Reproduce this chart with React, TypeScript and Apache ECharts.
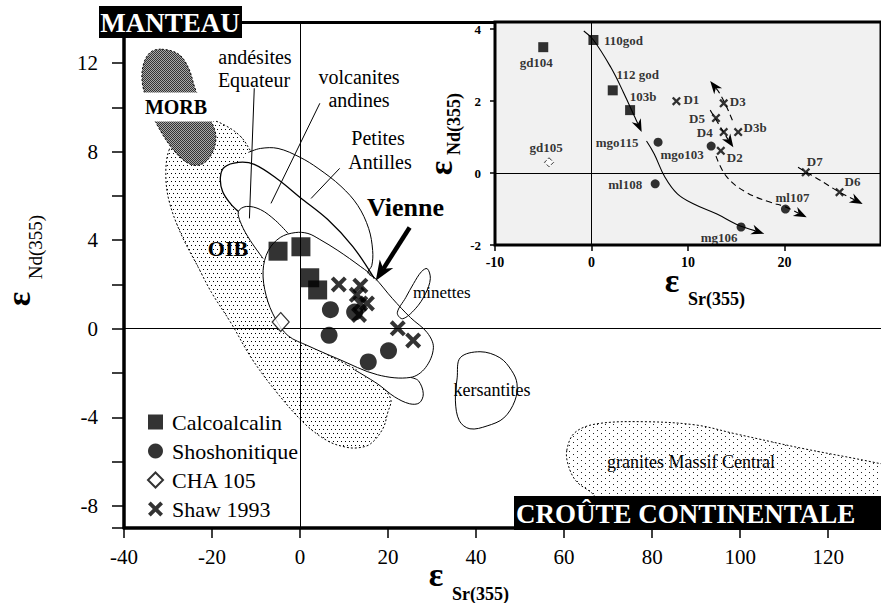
import React, { useEffect, useRef } from 'react';
import * as echarts from 'echarts';

type Pt = [number, number];
type Sample = [number, number, string];

// Samples: [εSr(355), εNd(355), sample name]
const calcoalcalin: Sample[] = [
  [-5.0, 3.5, 'gd104'],
  [0.2, 3.7, '110god'],
  [2.2, 2.3, '112 god'],
  [4.0, 1.75, '103b'],
];
const shoshonitique: Sample[] = [
  [6.9, 0.86, 'mgo115'],
  [12.4, 0.75, 'mgo103'],
  [6.6, -0.3, 'ml108'],
  [15.5, -1.5, 'mg106'],
  [20.1, -1.0, 'ml107'],
];
const cha105: Sample[] = [[-4.4, 0.3, 'gd105']];
const shaw1993: Sample[] = [
  [8.8, 2.0, 'D1'],
  [13.7, 1.94, 'D3'],
  [12.9, 1.53, 'D5'],
  [13.7, 1.14, 'D4'],
  [15.2, 1.14, 'D3b'],
  [13.4, 0.62, 'D2'],
  [22.2, 0.02, 'D7'],
  [25.7, -0.53, 'D6'],
];

// Reference fields (εSr, εNd)
const oibField: Pt[] = [
  [-29.8, 8.05], [-28.0, 8.5], [-24.2, 9.28], [-20.1, 9.41], [-16.3, 9.1], [-13.3, 8.64],
  [-11.3, 8.05], [-9.0, 7.38], [-11.8, 6.7], [-12.9, 5.8], [-11.3, 4.66], [-7.7, 3.53],
  [-6.1, 2.17], [-4.3, 0.81], [-1.1, -0.18], [4.7, -1.0], [12.4, -1.81], [17.6, -2.44],
  [20.6, -3.17], [19.9, -3.8], [18.8, -4.52], [16.0, -5.2], [13.1, -5.38], [10.2, -5.34],
  [6.3, -5.07], [1.1, -4.3], [-5.6, -2.8], [-11.1, -1.31], [-15.6, 0.23], [-20.1, 1.63],
  [-23.1, 2.76], [-27.1, 4.3], [-29.8, 5.8], [-30.5, 7.01],
];
const morbField: Pt[] = [
  [-31.4, 12.62], [-27.6, 12.4], [-25.3, 11.76], [-23.7, 10.77], [-21.2, 9.77], [-19.2, 8.82],
  [-19.7, 8.05], [-21.9, 7.47], [-24.9, 7.42], [-28.7, 8.05], [-32.8, 9.32], [-34.8, 10.3],
  [-35.9, 11.2], [-35.5, 12.0], [-33.9, 12.5],
];
const antillesOutline: Pt[] = [
  [-11.75, 7.96], [-9.0, 8.14], [-5.0, 8.14], [0, 7.74], [4.1, 7.24], [9.3, 6.43],
  [13.1, 5.57], [15.6, 4.52], [16.5, 3.53], [16.3, 2.85], [15.4, 2.53], [16.9, 2.31],
];
const andinesOutline: Pt[] = [
  [-14.0, 5.29], [-15.8, 5.65], [-17.6, 6.2], [-18.1, 6.83], [-17.2, 7.29], [-14.0, 7.51],
  [-10.4, 7.42], [-5.0, 6.74], [0, 5.93], [6.3, 4.93], [12.0, 3.71], [16.9, 2.26],
];
const equateurOutline: Pt[] = [
  [-8.4, 3.17], [-11.3, 3.98], [-13.3, 4.7], [-14.0, 5.29], [-12.2, 5.52], [-9.0, 5.38],
  [-5.6, 4.89], [-2.7, 4.3],
];
const andeanMask: Pt[] = [
  [-11.75, 7.96], [-9.0, 8.14], [-5.0, 8.14], [0, 7.74], [4.1, 7.24], [9.3, 6.43],
  [13.1, 5.57], [15.6, 4.52], [16.5, 3.53], [16.3, 2.85], [16.9, 2.31], [13.8, 2.8],
  [8.6, 3.53], [4.5, 4.03], [1.8, 4.3], [-1.1, 4.34], [-4.5, 4.12], [-7.2, 3.53],
  [-8.4, 3.17], [-11.3, 3.98], [-13.3, 4.7], [-14.0, 5.29], [-15.8, 5.65], [-17.6, 6.2],
  [-18.1, 6.83], [-17.2, 7.29], [-14.0, 7.51], [-12.5, 7.8],
];
const vienneField: Pt[] = [
  [-1.1, 4.34], [1.8, 4.3], [4.5, 4.03], [8.6, 3.53], [13.8, 2.8], [16.9, 2.31],
  [21.0, 1.36], [25.1, 0.5], [28.9, -0.18], [30.3, -0.86], [28.5, -1.76], [25.1, -2.2],
  [17.6, -2.08], [8.6, -1.36], [1.8, -0.77], [-2.7, -0.32], [-5.6, 0.45], [-7.7, 1.49],
  [-8.4, 2.62], [-7.2, 3.53], [-4.5, 4.12],
];
const vienneTail: Pt[] = [
  [12.4, -1.86], [17.6, -2.49], [21.5, -3.08], [24.9, -3.39], [27.1, -3.35], [28.0, -2.94],
  [26.9, -2.35], [25.1, -2.2],
];
const minettesField: Pt[] = [
  [28.9, 2.71], [29.6, 2.26], [28.5, 1.58], [26.2, 0.9], [23.3, 0.45], [22.1, 0.72],
  [24.0, 1.4], [25.8, 2.04], [27.6, 2.58],
];
const kersantitesField: Pt[] = [
  [40.9, -1.04], [36.4, -1.31], [35.7, -2.22], [35.3, -3.26], [36.2, -4.16], [38.6, -4.52],
  [42.5, -4.39], [46.3, -4.03], [48.8, -3.26], [49.3, -2.49], [48.1, -1.9], [45.4, -1.31],
];
const granitesField: Pt[] = [
  [60.6, -5.5], [62.4, -4.7], [67.3, -4.3], [78, -4.2], [90, -4.35], [99, -4.75],
  [114, -5.4], [131, -6.06], [140, -6.5], [140, -8.5], [70, -8.5], [66.7, -7.5],
  [62.8, -6.9], [61, -6.2],
];
const leaderLines: Pt[][] = [
  [[-10.4, 10.86], [-11.5, 4.98]],
  [[4.5, 10.18], [-6.6, 5.66]],
  [[9.0, 7.24], [2.5, 5.88]],
];
const vienneArrow: Pt[] = [[24.9, 4.57], [17.2, 2.17]];

// Inset evolution trends
const insetSolidTrends: Pt[][] = [
  [[-0.8, 3.95], [0.2, 3.7], [2.0, 2.94], [3.3, 2.25], [4.5, 1.55], [5.2, 1.14]],
  [[5.7, 0.89], [6.5, 0.53], [7.6, -0.11], [8.9, -0.58], [10.6, -0.86], [13, -1.14], [15, -1.42], [17.9, -1.69]],
];
const insetDashedTrends: Pt[][] = [
  [[12.3, 1.75], [13.2, 1.35], [14.0, 1.0], [14.7, 0.72]],
  [[12.9, 0.47], [14.0, -0.1], [16.0, -0.53], [18.4, -0.8], [20.1, -0.94], [22.3, -1.23]],
  [[14.6, 1.47], [13.9, 1.9], [13.2, 2.25], [12.3, 2.56]],
  [[21.4, 0.16], [23.5, -0.17], [25.7, -0.53], [28.1, -0.86]],
];

// Axis ticks
const xTicks = [-40, -20, 0, 20, 40, 60, 80, 100, 120];
const yLabels = [-8, -4, 0, 4, 8, 12];
const yTicks = [-9, -8, -6, -4, -2, 0, 2, 4, 6, 8, 10, 12];
const insetXTicks = [-10, 0, 10, 20];
const insetYTicks = [-2, 0, 2, 4];

const FAMILY = 'Liberation Serif';
const SERIF = '"Liberation Serif", "Times New Roman", serif';
const CROSS = 'path://M0,1.8L1.8,0L5,3.2L8.2,0L10,1.8L6.8,5L10,8.2L8.2,10L5,6.8L1.8,10L0,8.2L3.2,5Z';

const insetLabelOffset: Record<string, [number, number]> = {
  gd104: [-7, 15], '110god': [30, 1], '112 god': [25, -16], '103b': [13, -14],
  mgo115: [-41, 0], mgo103: [-29, 8], ml108: [-30, 1], mg106: [-22, 10], ml107: [7, -12],
  gd105: [-3, -15],
  D1: [15, -2], D3: [14, -2], D5: [-19, 0], D4: [-19, 0], D3b: [17, -5], D2: [14, 7], D7: [9, -11], D6: [13, -11],
};

function pattern(w: number, h: number, cells: [number, number, string][], bg?: string) {
  const c = document.createElement('canvas');
  c.width = w;
  c.height = h;
  const g = c.getContext('2d')!;
  if (bg) {
    g.fillStyle = bg;
    g.fillRect(0, 0, w, h);
  }
  cells.forEach(([x, y, col]) => {
    g.fillStyle = col;
    g.fillRect(x, y, 1, 1);
  });
  return { image: c, repeat: 'repeat', imageWidth: w, imageHeight: h };
}

function arrowHead(a: number[], b: number[], len: number, half: number) {
  const dx = b[0] - a[0];
  const dy = b[1] - a[1];
  const L = Math.hypot(dx, dy) || 1;
  const ux = dx / L;
  const uy = dy / L;
  const bx = b[0] - ux * len;
  const by = b[1] - uy * len;
  const neck = [b[0] - ux * len * 0.7, b[1] - uy * len * 0.7];
  return {
    neck,
    head: [[b[0], b[1]], [bx - uy * half, by + ux * half], neck, [bx + uy * half, by - ux * half]],
  };
}

function txt(text: string, x: number, y: number, font: string, align = 'center', extra: any = {}) {
  return {
    type: 'text', z: 50, x, y, ...extra,
    style: { text, font, fill: '#000', align, verticalAlign: 'middle', textAlign: align, textVerticalAlign: 'middle', ...(extra.style || {}) },
  };
}

// Axis label text routed through a rich style so the serif face is applied
function serifLabel(size: number, bold = false) {
  return {
    formatter: (v: number) => `{t|${v}}`,
    rich: { t: { fontFamily: SERIF, fontSize: size, fontWeight: bold ? 'bold' : 'normal', color: '#000' } },
  };
}

export default function App() {
  const ref = useRef<HTMLDivElement>(null);

  useEffect(() => {
    if (!ref.current) return;
    const chart = echarts.init(ref.current, undefined, { renderer: 'svg' });

    const oibFill = pattern(8, 8, [[1, 1, '#000'], [5, 1, '#000'], [3, 5, '#000'], [7, 5, '#000']], '#fff');
    const graniteFill = pattern(8, 6, [[1, 1, '#222'], [5, 4, '#222']], '#fff');
    const morbFill = pattern(2, 2, [[0, 0, '#333'], [1, 1, '#333'], [1, 0, '#a8a8a8'], [0, 1, '#a8a8a8']]);

    const fieldsLayer = {
      type: 'custom',
      coordinateSystem: 'cartesian2d',
      xAxisIndex: 0,
      yAxisIndex: 0,
      z: 1,
      silent: true,
      data: [[0, 0]],
      renderItem: (_p: any, api: any) => {
        const P = (pts: Pt[]) => pts.map((q) => api.coord(q));
        let z2 = 0;
        const poly = (pts: Pt[], style: any, smooth = 0.35) => ({
          type: 'polygon', z2: z2++, shape: { points: P(pts), smooth }, style,
        });
        const line = (pts: Pt[], style: any, smooth = 0.35) => ({
          type: 'polyline', z2: z2++, shape: { points: P(pts), smooth }, style: { fill: null, ...style },
        });
        const thin = { stroke: '#000', lineWidth: 1 };
        const dashed = { stroke: '#000', lineWidth: 1, lineDash: [2, 2] };
        const a = api.coord(vienneArrow[0]);
        const b = api.coord(vienneArrow[1]);
        const ah = arrowHead(a, b, 20, 8);
        return {
          type: 'group',
          children: [
            poly(granitesField, { fill: graniteFill, ...dashed }),
            poly(oibField, { fill: oibFill, ...dashed }),
            poly(andeanMask, { fill: '#fff' }),
            poly(vienneField, { fill: '#fff' }),
            poly(vienneTail, { fill: '#fff' }),
            poly(kersantitesField, { fill: '#fff' }),
            poly(minettesField, { fill: '#fff' }),
            poly(morbField, { fill: morbFill, ...dashed }),
            line(antillesOutline, thin),
            line(andinesOutline, { stroke: '#000', lineWidth: 1.3 }),
            line(equateurOutline, thin),
            poly(vienneField, { fill: null, ...thin }),
            line(vienneTail, thin),
            poly(minettesField, { fill: null, ...thin }),
            poly(kersantitesField, { fill: null, ...thin }),
            ...leaderLines.map((l) => line(l, thin, 0)),
            { type: 'line', z2: z2++, shape: { x1: a[0], y1: a[1], x2: ah.neck[0], y2: ah.neck[1] }, style: { stroke: '#000', lineWidth: 4.5 } },
            { type: 'polygon', z2: z2++, shape: { points: ah.head }, style: { fill: '#000' } },
          ],
        };
      },
    };

    const trendsLayer = {
      type: 'custom',
      coordinateSystem: 'cartesian2d',
      xAxisIndex: 2,
      yAxisIndex: 1,
      z: 4,
      silent: true,
      data: [[0, 0]],
      renderItem: (_p: any, api: any) => {
        const children: any[] = [];
        const draw = (pts: Pt[], dash: boolean) => {
          const px = pts.map((q) => api.coord(q));
          const ah = arrowHead(px[px.length - 2], px[px.length - 1], 13, 5);
          const body = px.slice(0, -1).concat([ah.neck]);
          children.push({
            type: 'polyline', shape: { points: body, smooth: 0.4 },
            style: { fill: null, stroke: '#000', lineWidth: 1.1, lineDash: dash ? [6, 4] : null },
          });
          children.push({ type: 'polygon', shape: { points: ah.head }, style: { fill: '#000' } });
        };
        insetSolidTrends.forEach((t) => draw(t, false));
        insetDashedTrends.forEach((t) => draw(t, true));
        return { type: 'group', children };
      },
    };

    const labelStyle = { color: '#000', fontFamily: SERIF, fontWeight: 'bold', fontSize: 13 };
    const insetData = (arr: Sample[]) =>
      arr.map((d) => ({
        value: [d[0], d[1]],
        name: d[2],
        label: { show: true, position: 'inside', offset: insetLabelOffset[d[2]], formatter: d[2], ...labelStyle },
      }));
    const mainData = (arr: Sample[]) => arr.map((d) => [d[0], d[1]]);

    const refLines = (xi: number, yi: number) => ({
      type: 'scatter',
      xAxisIndex: xi,
      yAxisIndex: yi,
      data: [],
      z: 3,
      silent: true,
      markLine: {
        silent: true,
        symbol: 'none',
        label: { show: false },
        lineStyle: { color: '#000', width: 1, type: 'solid' },
        data: [{ xAxis: 0 }, { yAxis: 0 }],
      },
    });

    chart.setOption({
      animation: false,
      backgroundColor: '#fff',
      textStyle: { fontFamily: FAMILY },
      grid: [
        { left: 124, top: 22, width: 761, height: 506 },
        { left: 495, top: 22, width: 392, height: 223, show: true, backgroundColor: '#f1f1f1', borderColor: '#000', borderWidth: 3, z: 2 },
      ],
      xAxis: [
        {
          type: 'value', gridIndex: 0, min: -40, max: 132,
          splitLine: { show: false },
          axisLine: { onZero: false, lineStyle: { color: '#000', width: 3.5 } },
          axisTick: { customValues: xTicks, length: 10, lineStyle: { color: '#000', width: 1.5 } },
          axisLabel: { customValues: xTicks, margin: 18, ...serifLabel(21) },
        },
        {
          type: 'value', gridIndex: 0, min: -40, max: 132, position: 'top',
          splitLine: { show: false },
          axisLine: { onZero: false, lineStyle: { color: '#000', width: 3 } },
          axisTick: { show: false },
          axisLabel: { show: false },
        },
        {
          type: 'value', gridIndex: 1, min: -10, max: 30,
          splitLine: { show: false },
          axisLine: { show: false, onZero: false },
          axisTick: { customValues: insetXTicks, length: 6, lineStyle: { color: '#000', width: 1.5 } },
          axisLabel: { customValues: insetXTicks, margin: 10, ...serifLabel(14, true) },
        },
      ],
      yAxis: [
        {
          type: 'value', gridIndex: 0, min: -9, max: 13.85,
          splitLine: { show: false },
          axisLine: { onZero: false, lineStyle: { color: '#000', width: 3.5 } },
          axisTick: { customValues: yTicks, length: 12, lineStyle: { color: '#000', width: 1.5 } },
          axisLabel: { customValues: yLabels, margin: 26, ...serifLabel(21) },
        },
        {
          type: 'value', gridIndex: 1, min: -2, max: 4.2,
          splitLine: { show: false },
          axisLine: { show: false, onZero: false },
          axisTick: { customValues: insetYTicks, length: 5, lineStyle: { color: '#000', width: 1.5 } },
          axisLabel: { customValues: insetYTicks, margin: 14, ...serifLabel(13, true) },
        },
      ],
      legend: {
        left: 142,
        top: 406,
        orient: 'vertical',
        itemWidth: 15,
        itemHeight: 15,
        itemGap: 7,
        selectedMode: false,
        formatter: (name: string) => `{t|${name}}`,
        textStyle: {
          fontFamily: SERIF, fontSize: 22, color: '#000', padding: [0, 0, 0, 4],
          rich: { t: { fontFamily: SERIF, fontSize: 22, color: '#000' } },
        },
        data: [
          { name: 'Calcoalcalin', icon: 'rect' },
          { name: 'Shoshonitique', icon: 'circle' },
          { name: 'CHA 105', icon: 'diamond' },
          { name: 'Shaw 1993', icon: CROSS },
        ],
      },
      series: [
        fieldsLayer,
        refLines(0, 0),
        {
          type: 'scatter', name: 'Calcoalcalin', xAxisIndex: 0, yAxisIndex: 0, z: 5,
          symbol: 'rect', symbolSize: 19, itemStyle: { color: '#000' }, data: mainData(calcoalcalin),
        },
        {
          type: 'scatter', name: 'Shoshonitique', xAxisIndex: 0, yAxisIndex: 0, z: 5,
          symbol: 'circle', symbolSize: 17, itemStyle: { color: '#000' }, data: mainData(shoshonitique),
        },
        {
          type: 'scatter', name: 'CHA 105', xAxisIndex: 0, yAxisIndex: 0, z: 5,
          symbol: 'diamond', symbolSize: [17, 19], itemStyle: { color: '#fff', borderColor: '#000', borderWidth: 1.2 },
          data: mainData(cha105),
        },
        {
          type: 'scatter', name: 'Shaw 1993', xAxisIndex: 0, yAxisIndex: 0, z: 5,
          symbol: CROSS, symbolSize: 16, itemStyle: { color: '#000' }, data: mainData(shaw1993),
        },
        refLines(2, 1),
        trendsLayer,
        {
          type: 'scatter', name: 'inset-calc', xAxisIndex: 2, yAxisIndex: 1, z: 5,
          symbol: 'rect', symbolSize: 10, itemStyle: { color: '#000' }, data: insetData(calcoalcalin),
        },
        {
          type: 'scatter', name: 'inset-sho', xAxisIndex: 2, yAxisIndex: 1, z: 5,
          symbol: 'circle', symbolSize: 9, itemStyle: { color: '#000' }, data: insetData(shoshonitique),
        },
        {
          type: 'scatter', name: 'inset-cha', xAxisIndex: 2, yAxisIndex: 1, z: 5,
          symbol: 'diamond', symbolSize: 9, itemStyle: { color: '#fff', borderColor: '#000', borderWidth: 1, borderType: 'dashed' },
          data: insetData(cha105),
        },
        {
          type: 'scatter', name: 'inset-shaw', xAxisIndex: 2, yAxisIndex: 1, z: 5,
          symbol: CROSS, symbolSize: 9, itemStyle: { color: '#000' }, data: insetData(shaw1993),
        },
      ],
      graphic: [
        // banner boxes
        { type: 'rect', z: 60, shape: { x: 99, y: 6, width: 143, height: 32 }, style: { fill: '#000' } },
        { ...txt('MANTEAU', 170, 23, `bold 27px ${SERIF}`), z: 61, style: { text: 'MANTEAU', font: `bold 27px ${SERIF}`, fill: '#fff', align: 'center', verticalAlign: 'middle', textAlign: 'center', textVerticalAlign: 'middle' } },
        { type: 'rect', z: 60, shape: { x: 514, y: 496, width: 380, height: 34 }, style: { fill: '#000' } },
        { ...txt('CROÛTE CONTINENTALE', 516, 514, `bold 27px ${SERIF}`, 'left'), z: 61, style: { text: 'CROÛTE CONTINENTALE', font: `bold 27px ${SERIF}`, fill: '#fff', align: 'left', verticalAlign: 'middle', textAlign: 'left', textVerticalAlign: 'middle' } },
        // field names
        txt('andésites', 255, 57, `20px ${SERIF}`),
        txt('Equateur', 254, 80, `20px ${SERIF}`),
        txt('volcanites', 359, 77, `20px ${SERIF}`),
        txt('andines', 359, 100, `20px ${SERIF}`),
        txt('Petites', 378, 138, `20px ${SERIF}`),
        txt('Antilles', 380, 162, `20px ${SERIF}`),
        txt('OIB', 228, 248, `bold 22px ${SERIF}`),
        txt('kersantites', 492, 390, `18px ${SERIF}`),
        txt('granites Massif Central', 691, 462, `18px ${SERIF}`),
        txt('MORB', 176, 107, `bold 20px ${SERIF}`, 'center', { style: { backgroundColor: '#fff', padding: [5, 9, 4, 9] } }),
        txt('Vienne', 367, 207, `bold 26px ${SERIF}`, 'left'),
        txt('minettes', 413, 292, `17px ${SERIF}`, 'left'),
        // axis titles
        txt('ε', 436, 574, `bold 34px ${SERIF}`),
        txt('Sr(355)', 452, 594, `bold 18px ${SERIF}`, 'left'),
        txt('ε', 18, 299, `bold 34px ${SERIF}`, 'center', { rotation: Math.PI / 2 }),
        txt('Nd(355)', 35, 247, `19px ${SERIF}`, 'center', { rotation: Math.PI / 2 }),
        txt('ε', 672, 280, `bold 34px ${SERIF}`),
        txt('Sr(355)', 688, 299, `bold 18px ${SERIF}`, 'left'),
        txt('ε', 440, 168, `bold 34px ${SERIF}`, 'center', { rotation: Math.PI / 2 }),
        txt('Nd(355)', 454, 124, `bold 18px ${SERIF}`, 'center', { rotation: Math.PI / 2 }),
      ],
    });

    return () => chart.dispose();
  }, []);

  return <div ref={ref} style={{ position: 'fixed', left: 0, top: 0, width: 881, height: 603 }} />;
}
